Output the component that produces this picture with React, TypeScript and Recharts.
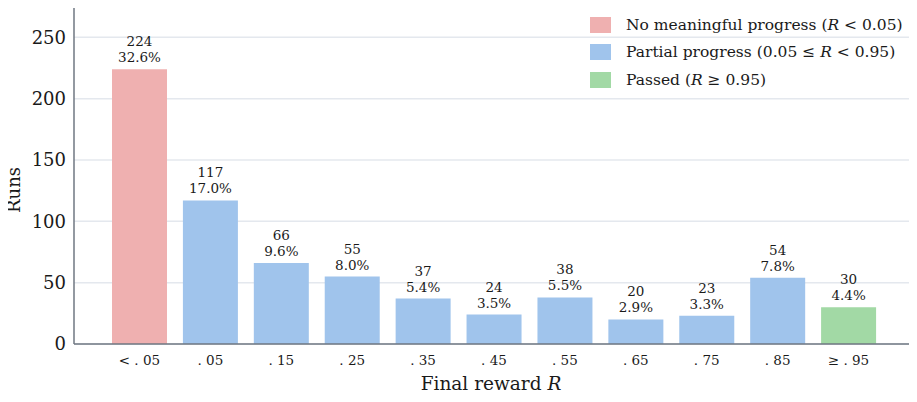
import React from "react";
import { BarChart, Bar, XAxis, YAxis, CartesianGrid, Cell, LabelList } from "recharts";

// Histogram of final reward R across runs
const bins = ["< . 05", ". 05", ". 15", ". 25", ". 35", ". 45", ". 55", ". 65", ". 75", ". 85", "\u2265 . 95"];
const runs = [224, 117, 66, 55, 37, 24, 38, 20, 23, 54, 30];
const groups = [0, 1, 1, 1, 1, 1, 1, 1, 1, 1, 2];
const yTicks = [0, 50, 100, 150, 200, 250];

const groupColors = ["#efb0b0", "#a0c4ec", "#a2d9a5"];
const groupNames = ["No meaningful progress", "Partial progress", "Passed"];
const groupRanges = [
  ["(", "R", " < 0.05)"],
  ["(0.05 \u2264 ", "R", " < 0.95)"],
  ["(", "R", " \u2265 0.95)"],
];

const total = runs.reduce((a, b) => a + b, 0);
const data = bins.map((bin, i) => ({ bin, runs: runs[i], group: groups[i] }));

const FONT = "DejaVu Serif";
const AXIS = "#6f7782";
const INK = "#1a1a1a";

const BarLabel = (props: any) => {
  const { x, y, width, value } = props;
  const cx = Number(x) + Number(width) / 2;
  const pct = ((Number(value) / total) * 100).toFixed(1) + "%";
  return (
    <g style={{ fontFamily: FONT }} fontSize={13.5} fill={INK}>
      <text x={cx} y={Number(y) - 23} textAnchor="middle">{value}</text>
      <text x={cx} y={Number(y) - 7} textAnchor="middle">{pct}</text>
    </g>
  );
};

const XLabel = () => (
  <text x={491} y={390} textAnchor="middle" style={{ fontFamily: FONT }} fontSize={18.5} fill={INK}>
    Final reward <tspan fontStyle="italic">R</tspan>
  </text>
);

const YLabel = () => (
  <text transform="translate(20,190) rotate(-90)" textAnchor="middle" style={{ fontFamily: FONT }} fontSize={18} fill={INK}>
    Runs
  </text>
);

const LegendBox = () => (
  <div style={{ position: "absolute", top: 11, left: 590, fontFamily: FONT, fontSize: 15.5, color: INK }}>
    {groupNames.map((name, i) => (
      <div key={name} style={{ display: "flex", alignItems: "center", height: 27.5 }}>
        <span style={{ display: "inline-block", width: 21, height: 16, background: groupColors[i], marginRight: 15 }} />
        <span style={{ whiteSpace: "nowrap" }}>
          {name} {groupRanges[i][0]}
          <i>{groupRanges[i][1]}</i>
          {groupRanges[i][2]}
        </span>
      </div>
    ))}
  </div>
);

export default function App() {
  return (
    <div style={{ position: "relative", width: 917, height: 402, margin: -8, background: "#fff" }}>
      <BarChart width={917} height={402} data={data} margin={{ top: 3, right: 2, left: 14, bottom: 18 }} barSize={55}>
        <CartesianGrid vertical={false} stroke="#e4e8ee" strokeWidth={1.5} />
        <XAxis
          dataKey="bin"
          padding={{ left: 30, right: 31 }}
          height={40}
          tickLine={false}
          tickSize={0}
          tickMargin={11}
          axisLine={{ stroke: AXIS, strokeWidth: 1.5 }}
          tick={{ fontFamily: FONT, fontSize: 13.5, fill: INK }}
          interval={0}
          label={<XLabel />}
        />
        <YAxis
          width={60}
          domain={[0, 278]}
          ticks={yTicks}
          tickLine={false}
          tickSize={0}
          tickMargin={8}
          axisLine={{ stroke: AXIS, strokeWidth: 1.5 }}
          tick={{ fontFamily: FONT, fontSize: 18, fill: INK }}
          label={<YLabel />}
        />
        <Bar dataKey="runs" isAnimationActive={false}>
          {data.map((d, i) => (
            <Cell key={i} fill={groupColors[d.group]} />
          ))}
          <LabelList dataKey="runs" content={<BarLabel />} />
        </Bar>
      </BarChart>
      <LegendBox />
    </div>
  );
}
